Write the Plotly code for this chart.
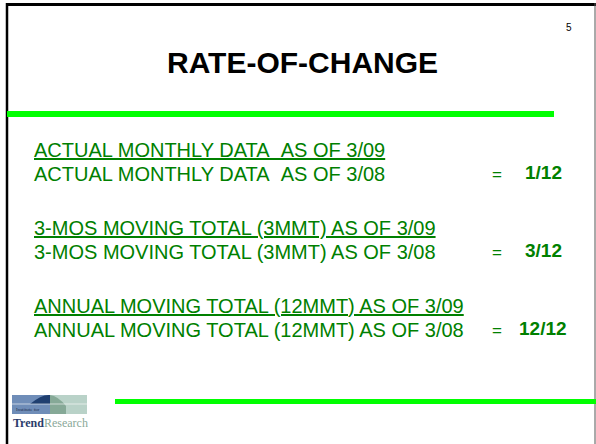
"""
Slide recreation: RATE-OF-CHANGE
Three fraction rows (numerator over denominator) with their ratio on the right.
"""

import plotly.graph_objects as go

# Slide content
title = "RATE-OF-CHANGE"
page_number = "5"
numerators = [
    "ACTUAL MONTHLY DATA\u00a0\u00a0AS OF 3/09",
    "3-MOS MOVING TOTAL (3MMT) AS OF 3/09",
    "ANNUAL MOVING TOTAL (12MMT) AS OF 3/09",
]
denominators = [
    "ACTUAL MONTHLY DATA\u00a0\u00a0AS OF 3/08",
    "3-MOS MOVING TOTAL (3MMT) AS OF 3/08",
    "ANNUAL MOVING TOTAL (12MMT) AS OF 3/08",
]
ratios = ["1/12", "3/12", "12/12"]

W, H = 596, 444
TEXT_GREEN = "#008000"
BAR_GREEN = "#00ff00"
FONT = "Liberation Sans, Arial, sans-serif"

fig = go.Figure()

# invisible trace so the pixel-sized axes exist
fig.add_trace(go.Scatter(x=[0, W], y=[0, H], mode="markers",
                         marker=dict(opacity=0), hoverinfo="skip", showlegend=False))

annotations = []
shapes = []

# frame: thick top and left edges, thin right edge
shapes.append(dict(type="line", x0=7, x1=W, y0=4.5, y1=4.5,
                   line=dict(color="black", width=3)))
shapes.append(dict(type="line", x0=7, x1=7, y0=3, y1=H,
                   line=dict(color="black", width=2.5)))
shapes.append(dict(type="line", x0=595, x1=595, y0=3, y1=H,
                   line=dict(color="#555555", width=1)))

# green rules
shapes.append(dict(type="rect", x0=7, x1=554, y0=111, y1=117,
                   fillcolor=BAR_GREEN, line=dict(width=0)))
shapes.append(dict(type="rect", x0=115, x1=W, y0=399, y1=404,
                   fillcolor=BAR_GREEN, line=dict(width=0)))

annotations.append(dict(x=302, y=62, text="<b>" + title + "</b>", showarrow=False,
                        font=dict(family=FONT, size=30, color="black")))
annotations.append(dict(x=569, y=27, text=page_number, showarrow=False,
                        font=dict(family=FONT, size=10, color="black")))

# fraction rows
row_top = 162
row_step = 78
for i, (num, den, r) in enumerate(zip(numerators, denominators, ratios)):
    yc = row_top + i * row_step
    annotations.append(dict(x=32, y=yc - 12, text="<u>" + num + "</u>", showarrow=False,
                            xanchor="left", font=dict(family=FONT, size=20, color=TEXT_GREEN)))
    annotations.append(dict(x=32, y=yc + 12, text=den, showarrow=False,
                            xanchor="left", font=dict(family=FONT, size=20, color=TEXT_GREEN)))
    annotations.append(dict(x=497, y=yc + 12, text="=", showarrow=False,
                            font=dict(family=FONT, size=17, color=TEXT_GREEN)))
    annotations.append(dict(x=543, y=yc + 10, text="<b>" + r + "</b>", showarrow=False,
                            font=dict(family=FONT, size=19, color=TEXT_GREEN)))

# Institute for Trend Research logo (rough)
shapes.append(dict(type="rect", x0=12, x1=50, y0=395, y1=414,
                   fillcolor="#6f8db8", line=dict(width=0)))
shapes.append(dict(type="rect", x0=50, x1=87, y0=395, y1=414,
                   fillcolor="#b9d2c8", line=dict(width=0)))
shapes.append(dict(type="path", path="M 30 404 Q 42 394 50 395 L 50 404 Z",
                   fillcolor="#1f3f70", line=dict(width=0)))
shapes.append(dict(type="path", path="M 50 395 Q 58 396 66 406 L 66 414 L 50 414 Z",
                   fillcolor="#86a997", line=dict(width=0)))
shapes.append(dict(type="line", x0=12, x1=87, y0=404, y1=404,
                   line=dict(color="white", width=0.6)))
annotations.append(dict(x=14, y=409, text="Institute for", showarrow=False, xanchor="left",
                        font=dict(family="Liberation Serif, serif", size=5, color="#1f3050")))
annotations.append(dict(x=11, y=423, showarrow=False, xanchor="left",
                        text="<b><span style='color:#2b3d6b'>Trend</span></b>"
                             "<span style='color:#8aa898'>Research</span>",
                        font=dict(family="Liberation Serif, serif", size=12)))

fig.update_layout(
    width=W, height=H,
    margin=dict(l=0, r=0, t=0, b=0),
    paper_bgcolor="white", plot_bgcolor="white",
    xaxis=dict(range=[0, W], visible=False, fixedrange=True),
    yaxis=dict(range=[H, 0], visible=False, fixedrange=True),
    shapes=shapes,
    annotations=annotations,
    showlegend=False,
)

fig.write_html("out.html", config={"displayModeBar": False},
               post_script="document.body.style.margin='0';")
